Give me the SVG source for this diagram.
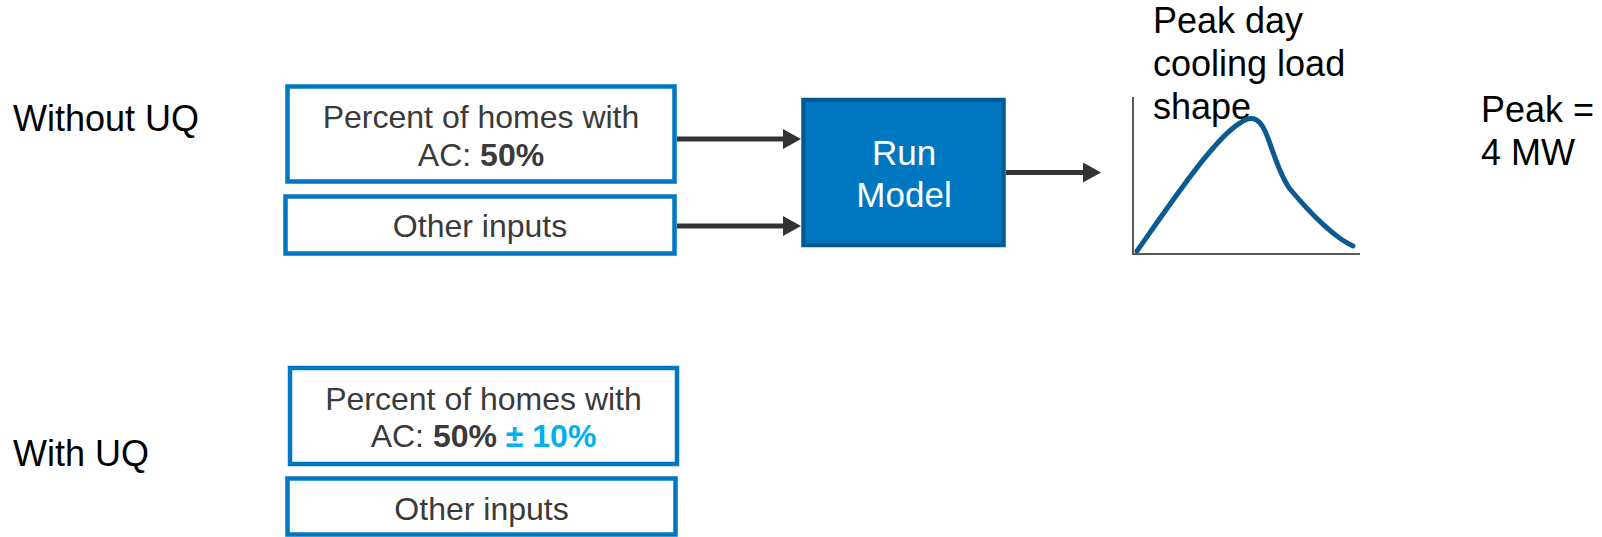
<svg xmlns="http://www.w3.org/2000/svg" width="1602" height="537" viewBox="0 0 1602 537">
<style>
.lbl{font-family:"Liberation Sans",Arial,sans-serif;font-size:36px;fill:#000}
.box{fill:#fff;stroke:#0078c1;stroke-width:4.5}
.bt{font-family:"Liberation Sans",Arial,sans-serif;font-size:32px;fill:#3a3a3a;text-anchor:middle}
.run{fill:#0078c1;stroke:#005b94;stroke-width:4.5}
.rt{font-family:"Liberation Sans",Arial,sans-serif;font-size:35px;fill:#fff;text-anchor:middle}
.conn{stroke:#333;stroke-width:5;fill:none}
</style>
<defs>
<marker id="ah" markerUnits="userSpaceOnUse" markerWidth="18" markerHeight="20" refX="10" refY="10" orient="auto">
<path d="M0,0 L18,10 L0,20 z" fill="#333"/>
</marker>
</defs>
<g id="label-without"><text class="lbl" x="13" y="131">Without UQ</text></g>
<g id="label-with"><text class="lbl" x="13" y="466">With UQ</text></g>
<g id="ac-input-1">
<rect class="box" x="287.5" y="86.5" width="387" height="95"/>
<text class="bt" x="481" y="128">Percent of homes with</text>
<text class="bt" x="481" y="165.5">AC: <tspan font-weight="bold">50%</tspan></text>
</g>
<g id="other-input-1">
<rect class="box" x="285.5" y="196.5" width="389" height="57"/>
<text class="bt" x="480" y="237">Other inputs</text>
</g>
<g id="run-model">
<rect class="run" x="803.5" y="100" width="200" height="145"/>
<text class="rt" x="904" y="165">Run</text>
<text class="rt" x="904" y="206.5">Model</text>
</g>
<g id="load-shape">
<text class="lbl" x="1153" y="33">Peak day</text>
<text class="lbl" x="1153" y="76">cooling load</text>
<text class="lbl" x="1153" y="119">shape</text>
<path d="M1133,97 V254 H1360" fill="none" stroke="#595959" stroke-width="2"/>
<path d="M1137,251 C1175,197 1215,138 1240,123 C1250,116 1258,116 1265,131 C1272,146 1278,173 1290,189 C1310,213 1335,238 1353,246" fill="none" stroke="#0b5a90" stroke-width="5" stroke-linecap="round"/>
</g>
<g id="peak-label">
<text class="lbl" x="1481" y="122">Peak =</text>
<text class="lbl" x="1481" y="165">4 MW</text>
</g>
<g id="ac-input-2">
<rect class="box" x="290" y="368" width="387" height="96"/>
<text class="bt" x="483.5" y="410">Percent of homes with</text>
<text class="bt" x="483.5" y="447">AC: <tspan font-weight="bold">50%</tspan> <tspan font-weight="bold" fill="#00b0f0">± 10%</tspan></text>
</g>
<g id="other-input-2">
<rect class="box" x="287.5" y="478.5" width="388" height="56"/>
<text class="bt" x="481.5" y="520">Other inputs</text>
</g>
<g id="connectors">
<line class="conn" x1="677" y1="139" x2="793" y2="139" marker-end="url(#ah)"/>
<line class="conn" x1="677" y1="226" x2="793" y2="226" marker-end="url(#ah)"/>
<line class="conn" x1="1006" y1="172.5" x2="1093" y2="172.5" marker-end="url(#ah)"/>
</g>
</svg>
